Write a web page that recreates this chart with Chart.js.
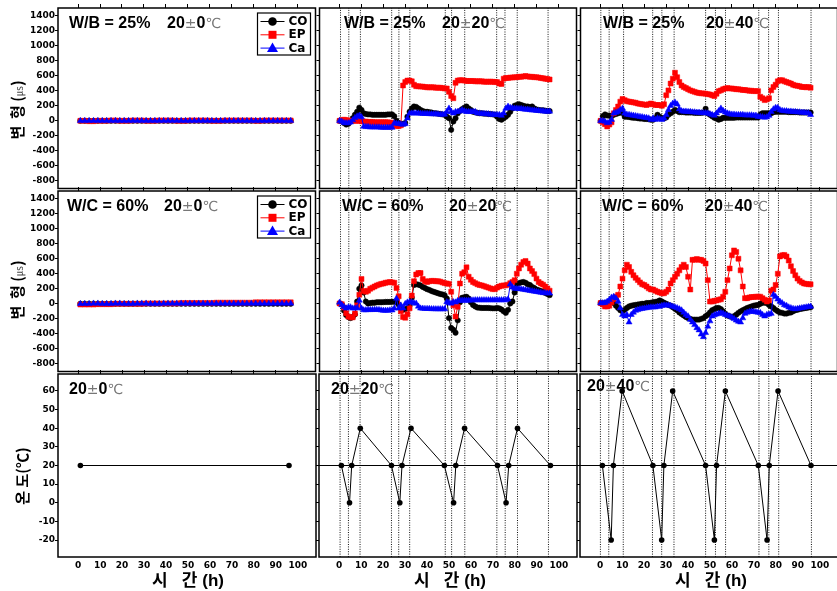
<!DOCTYPE html>
<html><head><meta charset="utf-8">
<script src="https://cdn.jsdelivr.net/npm/chart.js@4.4.1/dist/chart.umd.min.js"></script>
<style>
html,body{margin:0;padding:0;background:#fff;}
body{width:837px;height:591px;overflow:hidden;position:relative;}
canvas{position:absolute;}
.ttl{position:absolute;font-family:"Liberation Sans",Arial,sans-serif;font-weight:bold;font-size:16px;line-height:16px;white-space:nowrap;color:#000;}
.ttl .s{font-family:"DejaVu Sans",sans-serif;font-weight:normal;font-size:14px;color:#777;}
.yt{position:absolute;font-family:"Noto Sans CJK KR","Liberation Sans",sans-serif;font-weight:bold;font-size:15px;line-height:15px;white-space:nowrap;color:#000;transform:translate(-50%,-50%) rotate(-90deg);}
.yt .u{font-weight:normal;font-size:10px;color:#444;}
.xt{position:absolute;font-family:"Liberation Sans","Noto Sans CJK KR",sans-serif;font-weight:bold;font-size:17px;line-height:17px;white-space:nowrap;color:#000;transform:translate(-50%,-50%);}
#warn{position:absolute;right:0;bottom:0;color:#f0f;font:10px sans-serif;}
</style></head><body>
<script>
// ---------------- DATA ----------------
const hours = [0,1,2,3,4,5,6,7,8,9,10,11,12,13,14,15,16,17,18,19,20,21,22,23,24,25,26,27,28,29,30,31,32,33,34,35,36,37,38,39,40,41,42,43,44,45,46,47,48,49,50,51,52,53,54,55,56,57,58,59,60,61,62,63,64,65,66,67,68,69,70,71,72,73,74,75,76,77,78,79,80,81,82,83,84,85,86,87,88,89,90,91,92,93,94,95,96];
const flatHours = [1,3,5,7,9,11,13,15,17,19,21,23,25,27,29,31,33,35,37,39,41,43,45,47,49,51,53,55,57,59,61,63,65,67,69,71,73,75,77,79,81,83,85,87,89,91,93,95,97];

const timeTicks = [0,10,20,30,40,50,60,70,80,90,100];
const strainTicks = [-800,-600,-400,-200,0,200,400,600,800,1000,1200,1400];
const tempTicks = [-20,-10,0,10,20,30,40,50,60];

// W/B = 25%, 20±0
const wb0CO = [0,0,0,0,0,0,0, 0,0,0,0,0,0,0, 0,0,0,0,0,0,0, 0,0,0,0,0,0,0, 0,0,0,0,0,0,0, 0,0,0,0,0,0,0, 0,0,0,0,0,0,0];
const wb0EP = [0,0,-5,-5,0,0,0, 5,5,0,0,0,5,5, 5,0,0,0,5,5,5, 5,0,0,0,5,5,5, 5,5,0,0,0,5,5, 5,5,5,5,5,0,0, 5,5,5,5,5,5,5];
const wb0Ca = [0,0,0,0,0,0,0, 0,0,0,0,0,0,0, 0,0,0,0,0,0,0, 0,0,0,0,0,0,0, 0,0,0,0,0,0,0, 0,0,0,0,0,0,0, 0,0,0,0,0,0,0];
// W/C = 60%, 20±0
const wc0CO = [0,0,0,0,0,0,0, 0,0,0,0,0,0,0, 0,0,0,0,0,0,0, 0,0,0,0,0,0,0, 0,0,0,0,0,0,0, 0,0,0,0,0,0,0, 0,0,0,0,0,0,0];
const wc0EP = [-10,-10,-10,-10,-5,-5,-5, -5,0,0,0,0,0,0, 0,5,5,5,5,5,5, 5,5,10,10,10,10,10, 10,10,10,15,15,15,15, 15,15,15,15,15,20,20, 20,20,20,20,20,20,20];
const wc0Ca = [0,0,0,5,5,0,0, 0,5,5,0,0,0,5, 5,5,0,0,0,5,5, 5,5,5,5,5,5,5, 5,5,5,5,5,5,5, 5,5,5,5,5,5,5, 5,5,5,5,5,5,5];

// W/B = 25%, 20±20
const wb20CO = [0,0,-30,-50,-40,-10,35,80,120,175,145,100, 90,85,85,80,80,80,80,80,80,80,85,85,85, 60,0,-30,-40,-40,-30, 55,120,165,190,185,165,145,130,120,120,115,110,100,100,95,90,85,80, 55,35,-120,-10,35,100,130,155,175,190, 165,145,120,115,105,100,100,95,95,90,90,85,80, 55,25,15,35,55,80,120,165, 200,210,220,210,200,190,190,180,190,165,150,145,140,140,135,130,130];
const wb20EP = [0,10,15,10,5,0,0,0,0,0,-5, -10,-10,-15,-15,-15,-20,-20,-20,-20,-20,-20,-20,-25,-25, -60,-70,-70,-60, 470,515,535,535,525,480,460,460, 455,455,450,445,445,445,445,440,440,440,435,430,430, 385,330,300,505,535, 540,540,535,530,530,530,530,525,525,525,525,520,520,520,520,520,515,515, 495,490, 560,570,570,575,575,580,580,585,585,590,595,590,585,585,580,580,575,570,565,560,555,550];
const wb20Ca = [0,-10,-25,-30,-30,-20,10,40,60,70,50, -75,-80,-80,-85,-85,-85,-85,-85,-90,-90,-90,-90,-90,-90, -30,-35,-40,-45,-50,-40, 35,100,100,100,100,100,98,95,95,95,92,90,90,90,88,85,85,85, 120,165,120,100,120,120,130,145,130, 120,120,120,120,120,100,100,95,95,90,90,85,85,80,80, 80,70,100,165,190,175, 170,165,165,160,160,155,150,150,145,140,140,135,135,130,130,125,125,125];

// W/B = 25%, 20±40
const wb40CO = [0,60,85,70,70,60,80,90,100,110,105, 55,55,50,45,40,40,35,30,30,25,25,20,15,15, 35,80,55,35,35,45,80,100,120,145,130, 115,115,115,110,110,110,110,105,105,105,105,110, 160,100,80,60,40,30,15,25, 40,40,40,40,40,40,45,45,45,45,45,45,45,45,45,45,45, 85,100,100,100,100,100,115,120, 120,120,120,120,120,115,115,115,115,115,110,110,110,110,110,110];
const wb40EP = [0,-20,-45,-75,-50,-20,100,145,190,255,290,275,260, 255,250,245,240,230,225,220,215,210,220,230,220,210,210,210,200,220, 340,405,495,560,640,580,515,470,450,435,420,405,395,385,375,370,365,365,360,355,350,340,330, 360,395,405,420,430,435,430,430,425,420,420,415,410,410,405,400,400,395,395,395, 320,300,275,285,300, 405,450,480,525,540,540,525,515,505,495,480,470,465,460,450,450,445,450,440];
const wb40Ca = [0,0,-10,-30,-20,15,100,110,120,145,165,100, 85,80,75,70,65,60,55,50,45,40,35,15,35, 15,35,25,15,35,80,145,200,230,245,220,155,130, 125,125,120,120,115,115,110,110,105,105,105,100,90,80,70, 100,130,165,135,115,100,90, 85,85,80,80,80,80,75,75,75,75,70,70,55,55,50,45,50,70, 120,155,175,175,145,135,130,130,125,125,120,120,115,115,110,110,105,105,80];

// W/C = 60%, 20±20
const wc20CO = [5,-10,-90,-150,-175,-190,-175,-140,30,200,245, 150,30,5,10,15,15,20,20,20,22,25,25,25,27,27, 25,-10,-50,-80,-70,-60, -20,80,250,260,255,245,225,210,195,185,170,160,150,140,130,125,115, 70,-190,-320,-345,-385,-220,20,80,88,93,70,20,-15, -35,-50,-52,-55,-55,-55,-55,-58,-60,-60, -55,-60,-75,-100,-120,-80,5,30,150, 265,275,285,290,280,260,250,225,210,190,180,170,160,145,130,115];
const wc20EP = [5,-5,-50,-125,-170,-180,-180,-130,-20,120,330, 170,160,175,200,215,230,245,255,265,270,280,285,290,285,280, 210,100,-100,-175,-185,-140, -60,110,300,390,410,410,330,300,290,300,305,305,300,300,295,285,275, 270,265,160,-20,-170,-40,270,400,420,485,360,320,290, 275,260,250,245,235,225,215,205,195,195, 215,230,240,245,245,255,275,290,315, 400,470,520,555,570,535,470,435,395,335,290,270,255,230,205,175];
const wc20Ca = [18,-15,-40,-60,-45,-45,-60,-60,-55,45,-60, -83,-83,-80,-80,-80,-78,-78,-80,-85,-90,-90,-90,-85,-85,-60, 70,-60,-20,-60,0,20, 25,20,10,5,-35,-60,-62,-65,-65,-65,-68,-68,-70,-70,-70,-70,-70, 25,15,5,25,20,40,45,45,45,45,45,48,48, 50,50,50,50,50,50,50,50,50,50, 50,50,50,50,50,60,260,220,205, 200,200,195,190,185,180,175,170,165,160,155,150,145,145,140,140];

// W/C = 60%, 20±40
const wc40CO = [10,0,10,15,30,45,10,-25,-55,-85,-100, -80,-55,-35,-25,-20,-15,-10,-5,0,0, 10,10,15,20,25,30,45,30,15,0, -15,-25,-45,-65,-85,-115,-135,-155,-175,-190,-200,-210,-210,-210,-210, -200,-190,-165,-145,-115,-85,-70,-55,-55,-70, -100,-130,-155,-165,-175,-165,-145,-120,-100,-85, -70,-55,-45,-35,-25,-20,-15,0,15,15,10, -15,-35,-55,-80,-100,-115,-120,-130,-130,-120, -115,-100,-85,-80,-70,-65,-60,-55,-50,-45];
const wc40EP = [10,-10,-35,-35,-25,20,60,95,120,230,335,445,520, 490,425,380,345,315,285,260,250,230,205,190,190,175,160,150,140,140, 160,190,270,315,360,400,445,490,520,490,360,190, 585,585,595,585,585,570,535,315, 30,30,40,45,55,60,95,160, 315,470,645,710,690,600,445,230,75, 75,85,90,90,95,95,95,75,55,30,45, 175,190,250,400,630,645,650,630,575,500,435,380,335,305,285,270,265,260,260];
const wc40Ca = [10,10,15,30,55,85,95,75,30,-55,-145,-165, -145,-245,-145,-115,-90,-80,-70,-65,-60,-55,-50,-45,-45, -45,-35,-35,-25,-20,-20,-20,-25,-35,-45,-55,-70,-85, -115,-145,-165,-210,-245,-280,-320,-350,-405,-440,-385,-300,-230, -165,-150,-140,-130,-120,-130,-145,-155,-165,-180,-200,-220,-235,-245, -190,-130,-115,-105,-100,-105,-110,-115,-120,-145,-165,-145,-140,-130, 120,95,60,30,10,-15,-25,-45,-55,-65,-70,-65,-60,-55,-50,-45,-40,-35];

// temperature programs
const temp0Hours = [1,96];
const temp0 = [20,20];
const temp20Hours = [1,4.7,5.7,9.6,23.8,27.6,28.6,32.7,47.9,52.1,53.1,57.1,72.1,76,77.2,81.2,96.2];
const temp20 = [20,0,20,40,20,0,20,40,20,0,20,40,20,0,20,40,20];
const temp40Hours = [1,5,6,10,24,28,29,33,48,52,53,57,72,76,77,81,96];
const temp40 = [20,-20,20,60,20,-20,20,60,20,-20,20,60,20,-20,20,60,20];
// change-over times (dotted guide lines)
const events20 = [0.4,4.2,9.5,23.8,27.1,32.1,48.3,51.2,57.2,71.8,75.6,81.2,95.3];
const events40 = [0.1,3.9,10.5,23.8,28,33.6,48,52.5,57.1,72.3,76.8,81.3,96.2];
const baseTemp = 20;

// ---------------- LAYOUT ----------------
const COLS = [58, 319, 580];
const ROWS = [8, 191, 374];
const PW = 260, PH = 183;
const X_MIN = -9.2, X_MAX = 108.3;
const S_MIN = -900, S_MAX = 1500;
const T_MIN = -29.1, T_MAX = 69.1;

const warnings = [];
function pts(hrs, vals, name){
  if (hrs.length !== vals.length) warnings.push(name + ':' + vals.length);
  return hrs.map((h,i)=>({x:h, y:vals[i]}));
}
const tickFont = {family:'"DejaVu Sans", sans-serif', size:9, weight:'bold'};

function strainSets(hrs, co, ep, ca, name){
  return [
    {label:'CO', legendItem:true, marker:'circle', data:pts(hrs,co,name+'CO'), borderColor:'#000', backgroundColor:'#000',
     pointStyle:'circle', pointRadius:2.7, pointBorderWidth:0.5, borderWidth:1, order:3},
    {label:'EP', legendItem:true, marker:'rect', data:pts(hrs,ep,name+'EP'), borderColor:'#f00', backgroundColor:'#f00',
     pointStyle:'rect', pointRadius:3.5, pointBorderWidth:0.5, borderWidth:1, order:2},
    {label:'Ca', legendItem:true, marker:'triangle', data:pts(hrs,ca,name+'Ca'), borderColor:'#00f', backgroundColor:'#00f',
     pointStyle:'triangle', pointRadius:3.5, pointBorderWidth:0.5, borderWidth:1, order:1}
  ];
}
function guideSet(events, yMin, yMax){
  const d = [];
  events.forEach(t=>{ d.push({x:t,y:yMin}); d.push({x:t,y:yMax}); d.push({x:t,y:null}); });
  return {label:'guide', data:d, borderColor:'#111', borderWidth:1, borderDash:[1,1.4], pointRadius:0, spanGaps:false, order:10};
}
function tempSets(hrs, temps, withBase, name){
  const s = [{label:'T', data:pts(hrs,temps,name), borderColor:'#000', backgroundColor:'#000', borderWidth:1,
    pointStyle:'circle', pointRadius:2.8, pointBorderWidth:0, order:1}];
  if (withBase) s.push({label:'base', data:[{x:X_MIN,y:baseTemp},{x:X_MAX,y:baseTemp}], borderColor:'#000', borderWidth:1, pointRadius:0, order:5});
  return s;
}

const framePlugin = {
  id:'frame',
  afterDraw(chart){
    const {ctx, chartArea:a} = chart;
    ctx.save(); ctx.strokeStyle='#000'; ctx.lineWidth=1.5;
    ctx.strokeRect(a.left, a.top, a.right-a.left, a.bottom-a.top);
    ctx.restore();
  }
};
const legendPlugin = {
  id:'panelLegend',
  afterDraw(chart, args, opts){
    if (!opts || !opts.show) return;
    const {ctx, chartArea:a} = chart;
    const bw=53, bh=42, bx=a.right-5-bw, by=a.top+5;
    ctx.save();
    ctx.fillStyle='#fff'; ctx.fillRect(bx,by,bw,bh);
    ctx.strokeStyle='#000'; ctx.lineWidth=1.2; ctx.strokeRect(bx,by,bw,bh);
    const items = chart.data.datasets.filter(d=>d.legendItem);
    items.forEach((d,i)=>{
      const y = by + 8.5 + i*13.3, mx = bx + 15;
      ctx.strokeStyle = d.borderColor; ctx.lineWidth = 1;
      ctx.beginPath(); ctx.moveTo(bx+3,y); ctx.lineTo(bx+27,y); ctx.stroke();
      ctx.fillStyle = d.backgroundColor;
      ctx.beginPath();
      if (d.marker==='circle') ctx.arc(mx,y,4.3,0,Math.PI*2);
      else if (d.marker==='rect') ctx.rect(mx-4,y-4,8,8);
      else { ctx.moveTo(mx,y-5.5); ctx.lineTo(mx-5.5,y+4); ctx.lineTo(mx+5.5,y+4); ctx.closePath(); }
      ctx.fill();
      ctx.fillStyle='#000'; ctx.font='bold 12px "DejaVu Sans", sans-serif';
      ctx.textBaseline='middle'; ctx.textAlign='left';
      ctx.fillText(d.label, bx+31, y+0.5);
    });
    ctx.restore();
  }
};

function zeroPad(s){ s.paddingLeft=0; s.paddingRight=0; s.paddingTop=0; s.paddingBottom=0; }
function setTicks(list){ return s=>{ s.ticks = list.map(v=>({value:v})); }; }

function panel(col, row, datasets, yMin, yMax, yTicks, showLegend){
  const padL = col===0 ? 58 : 4, padT = 5, padR = 2, padB = row===2 ? 34 : 2;
  const cv = document.createElement('canvas');
  const w = PW+padL+padR, h = PH+padT+padB;
  cv.width = w; cv.height = h;
  cv.style.left = (COLS[col]-padL)+'px'; cv.style.top = (ROWS[row]-padT)+'px';
  cv.style.width = w+'px'; cv.style.height = h+'px';
  document.body.appendChild(cv);
  new Chart(cv.getContext('2d'), {
    type:'line',
    data:{datasets},
    plugins:[framePlugin, legendPlugin],
    options:{
      responsive:false, animation:false, devicePixelRatio:1, events:[],
      layout:{padding:{left:0, top:0, right:padR, bottom: row===2 ? 0 : padB}},
      plugins:{legend:{display:false}, tooltip:{enabled:false}, panelLegend:{show:!!showLegend}},
      scales:{
        x:{type:'linear', position:'bottom', min:X_MIN, max:X_MAX, display: row===2,
           grid:{display:false, drawTicks:false}, border:{display:false},
           ticks:{font:tickFont, color:'#000', padding:3, autoSkip:false, maxRotation:0, callback:v=>String(v)},
           afterBuildTicks:setTicks(timeTicks), afterFit:s=>{ s.height=padB; zeroPad(s); }},
        xTop:{type:'linear', position:'top', min:X_MIN, max:X_MAX,
           grid:{drawOnChartArea:false, drawTicks:true, tickLength:4, color:'#000', lineWidth:1}, border:{display:false},
           ticks:{display:false}, afterBuildTicks:setTicks(timeTicks), afterFit:s=>{ s.height=padT; zeroPad(s); }},
        y:{type:'linear', position:'left', min:yMin, max:yMax,
           grid:{drawOnChartArea:false, drawTicks:true, tickLength:3, color:'#000', lineWidth:1}, border:{display:false},
           ticks:{display: col===0, font:tickFont, color:'#000', padding:0, autoSkip:false, callback:v=>String(v)},
           afterBuildTicks:setTicks(yTicks), afterFit:s=>{ s.width=padL; zeroPad(s); }}
      }
    }
  });
}

// row 1: W/B = 25%
panel(0,0, strainSets(flatHours, wb0CO, wb0EP, wb0Ca, 'wb0'), S_MIN, S_MAX, strainTicks, true);
panel(1,0, [guideSet(events20,S_MIN,S_MAX)].concat(strainSets(hours, wb20CO, wb20EP, wb20Ca, 'wb20')), S_MIN, S_MAX, strainTicks);
panel(2,0, [guideSet(events40,S_MIN,S_MAX)].concat(strainSets(hours, wb40CO, wb40EP, wb40Ca, 'wb40')), S_MIN, S_MAX, strainTicks);
// row 2: W/C = 60%
panel(0,1, strainSets(flatHours, wc0CO, wc0EP, wc0Ca, 'wc0'), S_MIN, S_MAX, strainTicks, true);
panel(1,1, [guideSet(events20,S_MIN,S_MAX)].concat(strainSets(hours, wc20CO, wc20EP, wc20Ca, 'wc20')), S_MIN, S_MAX, strainTicks);
panel(2,1, [guideSet(events40,S_MIN,S_MAX)].concat(strainSets(hours, wc40CO, wc40EP, wc40Ca, 'wc40')), S_MIN, S_MAX, strainTicks);
// row 3: temperature
panel(0,2, tempSets(temp0Hours, temp0, false, 't0'), T_MIN, T_MAX, tempTicks);
panel(1,2, [guideSet(events20,T_MIN,T_MAX)].concat(tempSets(temp20Hours, temp20, true, 't20')), T_MIN, T_MAX, tempTicks);
panel(2,2, [guideSet(events40,T_MIN,T_MAX)].concat(tempSets(temp40Hours, temp40, true, 't40')), T_MIN, T_MAX, tempTicks);

if (warnings.length){ const w=document.createElement('div'); w.id='warn'; w.textContent=warnings.join(' '); document.body.appendChild(w); }
</script>

<div class="ttl" style="left:69px;top:15px">W/B = 25%</div>
<div class="ttl" style="left:167px;top:15px">20<span class="s">±</span>0<span class="s">℃</span></div>
<div class="ttl" style="left:344px;top:15px">W/B = 25%</div>
<div class="ttl" style="left:442px;top:15px">20<span class="s">±</span>20<span class="s">℃</span></div>
<div class="ttl" style="left:603px;top:15px">W/B = 25%</div>
<div class="ttl" style="left:706px;top:15px">20<span class="s">±</span>40<span class="s">℃</span></div>

<div class="ttl" style="left:67px;top:198px">W/C = 60%</div>
<div class="ttl" style="left:164px;top:198px">20<span class="s">±</span>0<span class="s">℃</span></div>
<div class="ttl" style="left:342px;top:198px">W/C = 60%</div>
<div class="ttl" style="left:449px;top:198px">20<span class="s">±</span>20<span class="s">℃</span></div>
<div class="ttl" style="left:602px;top:198px">W/C = 60%</div>
<div class="ttl" style="left:705px;top:198px">20<span class="s">±</span>40<span class="s">℃</span></div>

<div class="ttl" style="left:69px;top:381px">20<span class="s">±</span>0<span class="s">℃</span></div>
<div class="ttl" style="left:331px;top:381px">20<span class="s">±</span>20<span class="s">℃</span></div>
<div class="ttl" style="left:587px;top:378px">20<span class="s">±</span>40<span class="s">℃</span></div>

<div class="yt" style="left:17px;top:110px">변&nbsp;&nbsp;형&nbsp;(<span class="u">㎲</span>)</div>
<div class="yt" style="left:17px;top:290px">변&nbsp;&nbsp;형&nbsp;(<span class="u">㎲</span>)</div>
<div class="yt" style="left:21px;top:476px">온&nbsp;도(℃)</div>

<div class="xt" style="left:188px;top:580px">시&nbsp;&nbsp;&nbsp;간&nbsp;(h)</div>
<div class="xt" style="left:450px;top:580px">시&nbsp;&nbsp;&nbsp;간&nbsp;(h)</div>
<div class="xt" style="left:711px;top:580px">시&nbsp;&nbsp;&nbsp;간&nbsp;(h)</div>
</body></html>
